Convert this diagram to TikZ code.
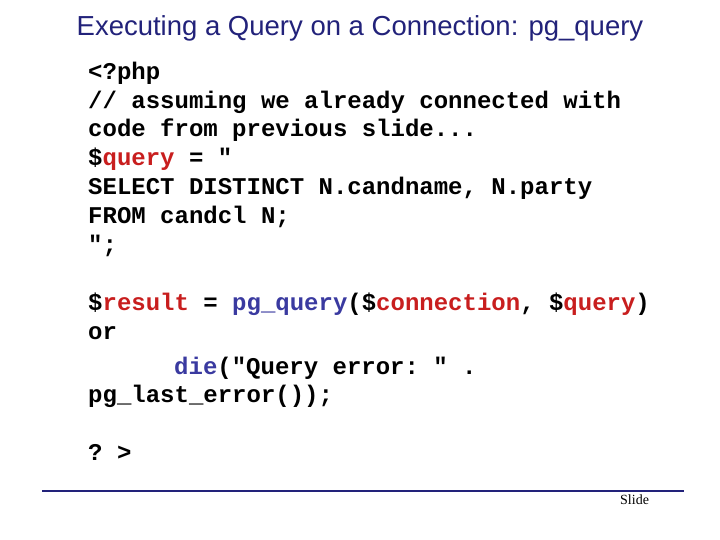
\documentclass[tikz,border=0pt]{standalone}
\usepackage{fontspec}
\setmonofont{Liberation Mono}
\newfontfamily\titlefont{Liberation Sans}
\setmainfont{Liberation Serif}
\definecolor{kw}{HTML}{C81E1E}
\definecolor{fn}{HTML}{3A3AA0}
\definecolor{tb}{HTML}{22227A}
\begin{document}
\begin{tikzpicture}[x=1pt,y=-1pt,
  code/.style={anchor=base west,inner sep=0pt,font=\fontsize{24}{24}\selectfont\ttfamily\bfseries}]
\useasboundingbox (0,0) rectangle (720,540);
\node[anchor=center,inner sep=0pt,text=tb,font=\fontsize{27.5}{27.5}\selectfont\titlefont] (title) at (360,28) {Executing a Query on a Connection: pg\_query};
\node[code] (l1) at (88,80) {<?php};
\node[code] (l2) at (88,109) {// assuming we already connected with};
\node[code] (l3) at (88,137) {code from previous slide...};
\node[code] (l4) at (88,166) {\$\textcolor{kw}{query} = "};
\node[code] (l5) at (88,195) {SELECT DISTINCT N.candname, N.party};
\node[code] (l6) at (88,224) {FROM candcl N;};
\node[code] (l7) at (88,252) {";};
\node[code] (l8) at (88,310) {\$\textcolor{kw}{result} = \textcolor{fn}{pg\_query}(\$\textcolor{kw}{connection}, \$\textcolor{kw}{query})};
\node[code] (l9) at (88,339) {or};
\node[code] (l10) at (174,374) {\textcolor{fn}{die}("Query error: " .};
\node[code] (l11) at (88,402) {pg\_last\_error());};
\node[code] (l12) at (88,460) {? >};
\coordinate (a) at (42,491);
\coordinate (b) at (684,491);
\draw[tb,line width=1.5pt] (a) -- (b);
\node[anchor=base west,inner sep=0pt,font=\fontsize{14}{14}\selectfont] (slide) at (620,504) {Slide};
\end{tikzpicture}
\end{document}
